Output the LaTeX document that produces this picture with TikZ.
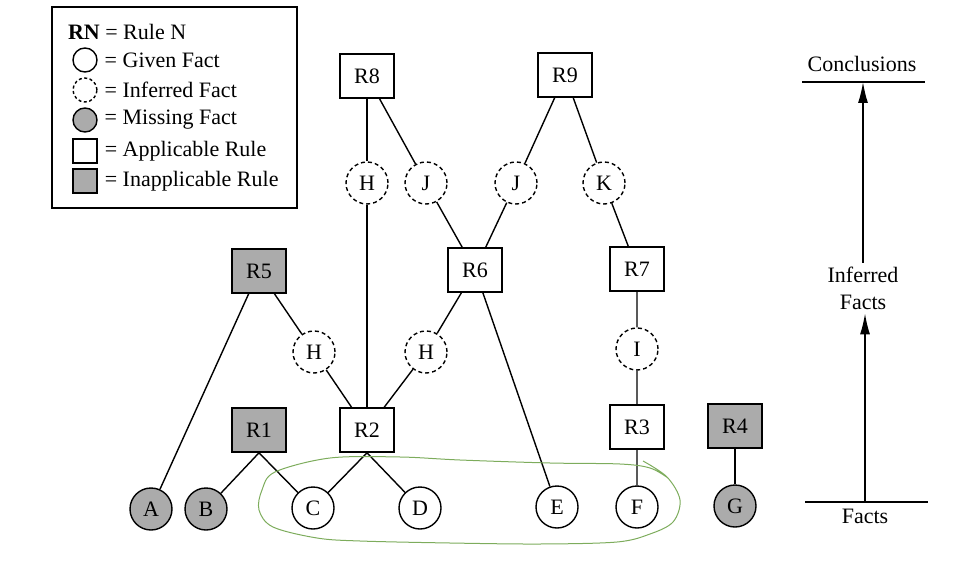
\documentclass[tikz,border=0pt]{standalone}
\usepackage{fontspec}
\setmainfont{Liberation Serif}
\usetikzlibrary{positioning,arrows.meta}
\definecolor{pen}{RGB}{125,172,92}

\begin{document}
\begin{tikzpicture}[
        x=1pt, y=-1pt, % координаты в пикселях
        font=\fontsize{22}{27}\selectfont,
        line width=1.4pt,
        rule/.style = {rectangle, draw, line width=1.6pt, minimum width=54pt, minimum height=44pt, inner sep=0pt}, % применимое правило
        ruleoff/.style = {rule, fill=black!33}, % неприменимое правило
        fact/.style = {circle, draw, line width=1.4pt, minimum size=42pt, inner sep=0pt}, % данный факт
        inferred/.style = {fact, dash pattern=on 4pt off 3pt}, % выведенный факт
        missing/.style = {fact, fill=black!33}, % отсутствующий факт
        lgsym/.style = {minimum width=24pt, minimum height=25pt, minimum size=24pt}, % значки легенды
        sepline/.style = {draw, line width=1.6pt},
        upward/.style = {-{Latex[length=21pt, width=10pt]}, line width=1.5pt},
    ]
    \useasboundingbox (0,0) rectangle (965,561);

    % легенда
    \draw[line width=1.6pt] (52,7) rectangle (297,208);
    \node[anchor=west] (lrn) at (64,32) {\textbf{RN} = Rule N};
    \node[fact, lgsym] (lg1) at (85,60) {};
    \node[right=3pt of lg1] (lt1) {= Given Fact};
    \node[inferred, lgsym, dash pattern=on 3pt off 2.5pt] (lg2) at (85,90) {};
    \node[right=3pt of lg2] (lt2) {= Inferred Fact};
    \node[missing, lgsym] (lg3) at (85,120) {};
    \node[right=3pt of lg3] (lt3) {= Missing Fact};
    \node[rule, lgsym] (lg4) at (85,151) {};
    \node[right=3pt of lg4] (lt4) {= Applicable Rule};
    \node[ruleoff, lgsym] (lg5) at (85,181) {};
    \node[right=3pt of lg5] (lt5) {= Inapplicable Rule};

    % правила
    \node[rule] (R8) at (367,76) {R8};
    \node[rule] (R9) at (565,75) {R9};
    \node[ruleoff] (R5) at (259,271) {R5};
    \node[rule] (R6) at (475,270) {R6};
    \node[rule] (R7) at (637,269) {R7};
    \node[ruleoff] (R1) at (259,430) {R1};
    \node[rule] (R2) at (367,430) {R2};
    \node[rule] (R3) at (637,427) {R3};
    \node[ruleoff] (R4) at (735,426) {R4};

    % выведенные факты
    \node[inferred] (H1) at (367,183) {H};
    \node[inferred] (J1) at (426,183) {J};
    \node[inferred] (J2) at (516,183) {J};
    \node[inferred] (K) at (604,183) {K};
    \node[inferred] (H2) at (314,352) {H};
    \node[inferred] (H3) at (426,352) {H};
    \node[inferred] (I) at (637,349) {I};

    % исходные факты
    \node[missing] (A) at (151,509) {A};
    \node[missing] (B) at (206,509) {B};
    \node[fact] (C) at (313,508) {C};
    \node[fact] (D) at (420,508) {D};
    \node[fact] (E) at (557,507) {E};
    \node[fact] (F) at (637,507) {F};
    \node[missing] (G) at (735,506) {G};

    % связи
    \draw (R8) -- (H1) -- (R2);
    \draw (R8) -- (J1) -- (R6);
    \draw (R9) -- (J2) -- (R6);
    \draw (R9) -- (K) -- (R7) -- (I) -- (R3) -- (F);
    \draw (R6) -- (H3) -- (R2);
    \draw (R6) -- (E);
    \draw (R5) -- (H2) -- (R2);
    \draw (R5) -- (A);
    \draw (R1.south) -- (B);
    \draw (R1.south) -- (C);
    \draw (R2.south) -- (C);
    \draw (R2.south) -- (D);
    \draw (R4) -- (G);

    % пометка от руки
    \draw[pen, line width=1pt] plot[smooth, tension=0.55] coordinates {(643,461) (667,477) (680,500) (673,522) (650,534) (617,542) (540,544) (450,543) (360,541) (317,538) (273,527) (259,510) (262,490) (275,472) (330,458) (400,457) (460,460) (550,463) (620,464) (650,468) (668,478)};

    % шкала справа
    \coordinate (ctl) at (802,82);
    \coordinate (ctr) at (925,82);
    \coordinate (cbl) at (805,502);
    \coordinate (cbr) at (928,502);
    \draw[sepline] (ctl) -- (ctr);
    \draw[sepline] (cbl) -- (cbr);
    \node[anchor=base] (concl) at (862,72) {Conclusions};
    \node[align=center] (infer) at (863,288) {Inferred\\Facts};
    \node[anchor=base] (facts) at (865,523) {Facts};
    \coordinate (cup) at (865,502);
    \draw[upward] (infer.north) -- (infer.north |- ctl);
    \draw[upward] (cup) -- (cup |- infer.south);
\end{tikzpicture}
\end{document}
